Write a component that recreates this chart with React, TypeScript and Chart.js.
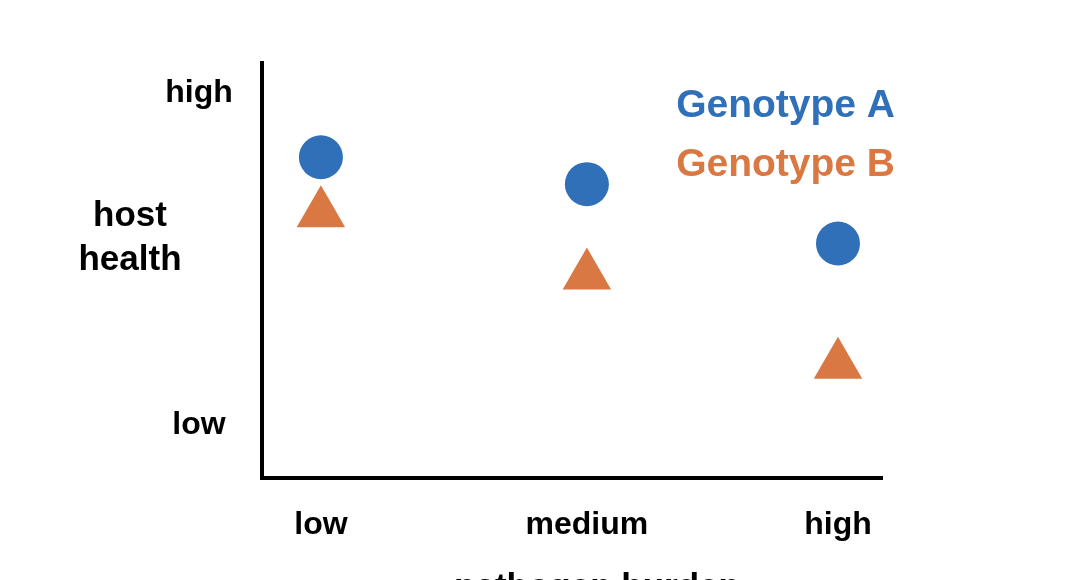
import React, { useEffect, useRef } from "react";
import { Chart, registerables } from "chart.js";
Chart.register(...registerables);

const xCategories = ["low", "medium", "high"];
const xPositions = [0.95, 5.24, 9.29];
const yTickLabels = ["low", "high"];
const yTickValues = [1.33, 9.32];
const genotypeA = [7.73, 7.08, 5.65];
const genotypeB = [6.38, 4.88, 2.73];
const seriesNames = ["Genotype A", "Genotype B"];
const seriesColors = ["#3070B9", "#DA7843"];
const xTitle = "pathogen burden";
const yTitleLines = ["host", "health"];

const FONT = "'Liberation Sans', Arial, Helvetica, sans-serif";

const labelPlugin = {
  id: "labelPlugin",
  afterDraw(chart: any) {
    const ctx = chart.ctx;
    const xs = chart.scales.x;
    const ys = chart.scales.y;
    const area = chart.chartArea;
    ctx.save();
    ctx.fillStyle = "#000";
    // x tick labels
    ctx.font = `bold 32px ${FONT}`;
    ctx.textAlign = "center";
    ctx.textBaseline = "alphabetic";
    xCategories.forEach((c, i) => {
      ctx.fillText(c, xs.getPixelForValue(xPositions[i]), area.bottom + 56);
    });
    // y tick labels
    yTickLabels.forEach((t, i) => {
      ctx.fillText(t, area.left - 63, ys.getPixelForValue(yTickValues[i]) + 11);
    });
    // titles
    ctx.font = `bold 35px ${FONT}`;
    ctx.fillText(xTitle, (area.left + area.right) / 2 + 25, area.bottom + 120);
    yTitleLines.forEach((t, i) => {
      ctx.fillText(t, area.left - 132, area.top + 163 + i * 44);
    });
    // legend
    ctx.font = `bold 39px ${FONT}`;
    ctx.textAlign = "right";
    seriesNames.forEach((n, i) => {
      ctx.fillStyle = seriesColors[i];
      ctx.fillText(n, area.right + 13, area.top + 54 + i * 59);
    });
    ctx.restore();
  },
};

export default function App() {
  const ref = useRef<HTMLCanvasElement>(null);
  useEffect(() => {
    document.body.style.margin = "0";
    const chart = new Chart(ref.current!, {
      type: "scatter",
      data: {
        datasets: [
          {
            label: seriesNames[0],
            data: genotypeA.map((v, i) => ({ x: xPositions[i], y: v })),
            pointStyle: "circle",
            pointRadius: 22,
            pointHoverRadius: 22,
            pointBorderWidth: 0,
            backgroundColor: seriesColors[0],
            borderColor: seriesColors[0],
          },
          {
            label: seriesNames[1],
            data: genotypeB.map((v, i) => ({ x: xPositions[i], y: v })),
            pointStyle: "triangle",
            pointRadius: 28,
            pointHoverRadius: 28,
            pointBorderWidth: 0,
            backgroundColor: seriesColors[1],
            borderColor: seriesColors[1],
          },
        ],
      },
      options: {
        animation: false,
        responsive: false,
        devicePixelRatio: 1,
        layout: { padding: { left: 254, right: 186, top: 63, bottom: 94 } },
        plugins: { legend: { display: false }, tooltip: { enabled: false } },
        scales: {
          x: {
            type: "linear",
            min: 0,
            max: 10,
            ticks: { display: false },
            grid: { display: false },
            border: { display: true, color: "#000", width: 4 },
          },
          y: {
            type: "linear",
            min: 0,
            max: 10,
            ticks: { display: false },
            grid: { display: false },
            border: { display: true, color: "#000", width: 4 },
          },
        },
      },
      plugins: [labelPlugin],
    });
    return () => chart.destroy();
  }, []);
  return (
    <div style={{ position: "fixed", left: 0, top: 0, width: 1068, height: 580, background: "#fff" }}>
      <canvas ref={ref} width={1068} height={580} />
    </div>
  );
}
